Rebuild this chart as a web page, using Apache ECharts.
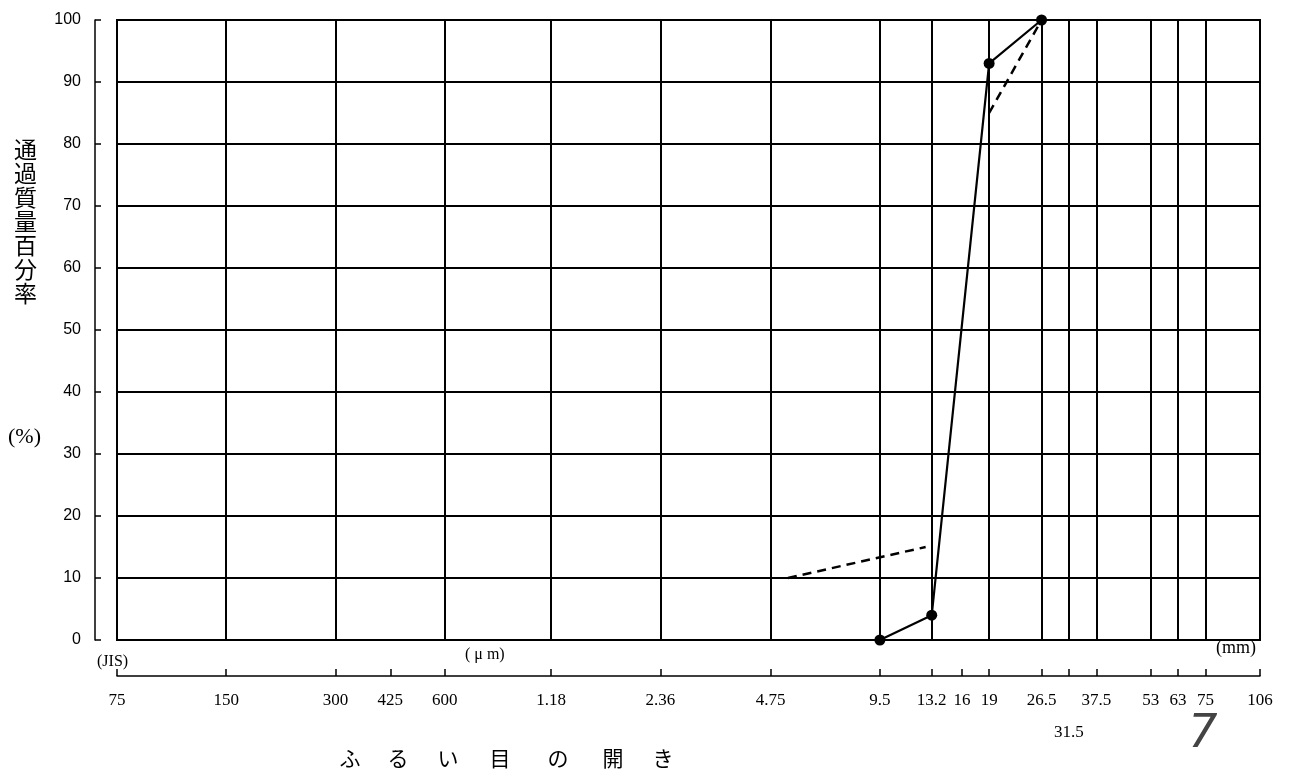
<!DOCTYPE html>
<html>
<head>
<meta charset="utf-8">
<script src="https://cdn.jsdelivr.net/npm/echarts@6/dist/echarts.min.js"></script>
<style>html,body{margin:0;padding:0;background:#fff;}#c{width:1291px;height:769px;}</style>
</head>
<body>
<div id="c"></div>
<script>
// sieve sizes in mm (log axis) and their printed labels
var tickSizes = [0.075,0.15,0.3,0.425,0.6,1.18,2.36,4.75,9.5,13.2,16,19,26.5,31.5,37.5,53,63,75,106];
var tickLabels = ['75','150','300','425','600','1.18','2.36','4.75','9.5','13.2','16','19','26.5','31.5','37.5','53','63','75','106'];
// sieve sizes with vertical grid lines in the plot
var gridSizes = [0.15,0.3,0.6,1.18,2.36,4.75,9.5,13.2,19,26.5,31.5,37.5,53,63,75];
// percentage ticks
var yTicks = [0,10,20,30,40,50,60,70,80,90,100];
// measured grading curve
var passSizes = [9.5,13.2,19,26.5];
var passValues = [0,4,93,100];
// dashed range lines
var upperSizes = [19,26.5];
var upperValues = [85,100];
var lowerSizes = [5.3,12.7];
var lowerValues = [10,15];

function pairs(xs, ys){ return xs.map(function(x,i){ return [x, ys[i]]; }); }
function labelFor(v){
  for (var i=0;i<tickSizes.length;i++){
    if (Math.abs(v - tickSizes[i]) / tickSizes[i] < 1e-4) return tickLabels[i];
  }
  return '';
}

var chart = echarts.init(document.getElementById('c'));
var serif = 'Liberation Serif';
var cjk = 'Noto Sans CJK JP';
var titleChars = ['ふ','る','い','目','の','開','き'];
var titleX = [350,398,448,500,558,613,663];
var graphics = [
  { type: 'text', left: 14, top: 137, style: { text: '通\n過\n質\n量\n百\n分\n率', fontFamily: cjk, fontSize: 23, lineHeight: 24, fill: '#000' } },
  { type: 'text', left: 8, top: 426, style: { text: '(%)', fontFamily: serif, fontSize: 22, fill: '#000' } },
  { type: 'text', left: 97, top: 654, style: { text: '(JIS)', fontFamily: serif, fontSize: 16, fill: '#000' } },
  { type: 'text', left: 465, top: 647, style: { text: '( μ m)', fontFamily: serif, fontSize: 16, fill: '#000' } },
  { type: 'text', left: 1216, top: 639, style: { text: '(mm)', fontFamily: serif, fontSize: 18, fill: '#000' } },
  { type: 'text', x: 1203, y: 735, style: { text: '7', fontFamily: 'DejaVu Sans', fontWeight: 200, fontStyle: 'italic', fontSize: 46, fill: '#444', align: 'center', verticalAlign: 'middle' } }
];
titleChars.forEach(function(ch, i){
  graphics.push({ type: 'text', x: titleX[i], y: 758, style: { text: ch, fontFamily: cjk, fontSize: 21, fill: '#000', align: 'center', verticalAlign: 'middle' } });
});

var option = {
  animation: false,
  backgroundColor: '#fff',
  grid: { left: 117, top: 20, width: 1143, height: 620, show: true, borderColor: '#000', borderWidth: 2, backgroundColor: 'transparent' },
  xAxis: [
    { type: 'log', logBase: 10, min: 0.075, max: 106, axisLine: {show:false}, axisTick: {show:false}, axisLabel: {show:false}, splitLine: {show:false}, minorSplitLine:{show:false} },
    { type: 'log', logBase: 10, min: 0.075, max: 106, position: 'bottom', offset: 36,
      axisLine: { show: true, onZero: false, lineStyle: { color: '#000', width: 1.5 } },
      axisTick: { show: true, inside: true, length: 7, customValues: tickSizes, lineStyle: { color: '#000', width: 1.5 } },
      axisLabel: { show: true, customValues: tickSizes, margin: 16, color: '#000', fontFamily: serif, fontSize: 17,
        formatter: function(v){ var s = labelFor(v); return s === '31.5' ? '{low|' + s + '}' : s; },
        rich: { low: { padding: [32,0,0,0], fontFamily: serif, fontSize: 17, color: '#000' } } },
      splitLine: { show: false } }
  ],
  yAxis: [
    { type: 'value', min: 0, max: 100, interval: 10, axisLine: {show:false}, axisTick:{show:false}, axisLabel:{show:false},
      splitLine: { show: true, lineStyle: { color: '#000', width: 2 } } },
    { type: 'value', min: 0, max: 100, interval: 10, position: 'left', offset: 22,
      axisLine: { show: true, onZero: false, lineStyle: { color: '#000', width: 1.5 } },
      axisTick: { show: true, inside: true, length: 6, lineStyle: { color: '#000', width: 1.5 } },
      axisLabel: { show: true, margin: 14, color: '#000', fontFamily: 'Liberation Sans', fontSize: 16,
        formatter: function(v){ return String(v); } },
      splitLine: { show: false } }
  ],
  series: [
    { type: 'line', xAxisIndex: 0, yAxisIndex: 0, data: [], silent: true,
      markLine: { silent: true, symbol: ['none','none'], label: {show:false}, animation: false,
        lineStyle: { type: 'solid', color: '#000', width: 2 },
        emphasis: { disabled: true },
        data: gridSizes.map(function(s){ return { xAxis: s }; }) } },
    { name: 'pass', type: 'line', xAxisIndex: 0, yAxisIndex: 0, data: pairs(passSizes, passValues),
      symbol: 'circle', symbolSize: 11, itemStyle: { color: '#000' }, lineStyle: { color: '#000', width: 2.2 }, z: 5 },
    { name: 'upper', type: 'line', xAxisIndex: 0, yAxisIndex: 0, data: pairs(upperSizes, upperValues),
      symbol: 'none', lineStyle: { color: '#000', width: 2.5, type: [9,6] }, z: 4 },
    { name: 'lower', type: 'line', xAxisIndex: 0, yAxisIndex: 0, data: pairs(lowerSizes, lowerValues),
      symbol: 'none', lineStyle: { color: '#000', width: 2.5, type: [9,6] }, z: 4 }
  ],
  graphic: graphics
};
chart.setOption(option);
</script>
</body>
</html>
